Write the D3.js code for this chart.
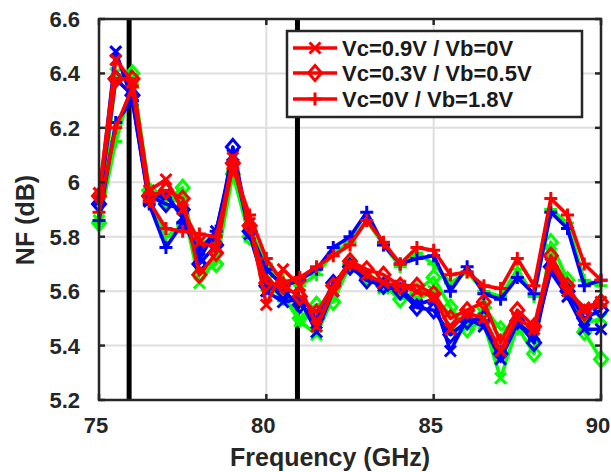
<!DOCTYPE html>
<html>
<head>
<meta charset="utf-8">
<script src="https://cdn.jsdelivr.net/npm/d3@7"></script>
<style>
  html, body { margin: 0; padding: 0; background: #fff; }
  svg { display: block; font-family: Arial, "Liberation Sans", sans-serif; }
</style>
</head>
<body>
<div id="chart"></div>
<script>
// Frequency points (GHz)
const freqs = [75, 75.5, 76, 76.5, 77, 77.5, 78, 78.5, 79, 79.5, 80, 80.5, 81, 81.5, 82, 82.5,
               83, 83.5, 84, 84.5, 85, 85.5, 86, 86.5, 87, 87.5, 88, 88.5, 89, 89.5, 90];

// NF (dB)
const greenX    = [5.86, 6.40, 6.38, 5.96, 5.95, 5.92, 5.63, 5.72, 6.05, 5.80, 5.62, 5.58, 5.49, 5.44, 5.58, 5.69,
                   5.66, 5.61, 5.59, 5.57, 5.60, 5.45, 5.47, 5.48, 5.28, 5.47, 5.43, 5.74, 5.60, 5.48, 5.50];
const greenDiam = [5.85, 6.38, 6.40, 5.97, 5.93, 5.98, 5.66, 5.70, 6.03, 5.80, 5.66, 5.58, 5.50, 5.55, 5.56, 5.70,
                   5.65, 5.62, 5.57, 5.60, 5.65, 5.54, 5.46, 5.54, 5.46, 5.47, 5.37, 5.78, 5.64, 5.45, 5.35];
const greenPlus = [5.85, 6.15, 6.36, 5.94, 5.80, 5.84, 5.78, 5.78, 6.04, 5.83, 5.70, 5.64, 5.62, 5.66, 5.74, 5.78,
                   5.86, 5.77, 5.69, 5.74, 5.70, 5.63, 5.67, 5.60, 5.58, 5.68, 5.58, 5.90, 5.85, 5.64, 5.62];
const blueX     = [5.93, 6.48, 6.30, 5.93, 5.96, 5.87, 5.72, 5.82, 6.10, 5.81, 5.60, 5.56, 5.57, 5.45, 5.60, 5.70,
                   5.66, 5.62, 5.61, 5.55, 5.57, 5.38, 5.50, 5.47, 5.35, 5.48, 5.44, 5.67, 5.58, 5.46, 5.46];
const blueDiam  = [5.92, 6.38, 6.32, 5.95, 5.92, 5.90, 5.70, 5.77, 6.13, 5.82, 5.62, 5.60, 5.55, 5.50, 5.63, 5.69,
                   5.64, 5.62, 5.60, 5.54, 5.53, 5.44, 5.49, 5.50, 5.37, 5.49, 5.41, 5.69, 5.60, 5.50, 5.53];
const bluePlus  = [5.86, 6.22, 6.30, 5.92, 5.76, 5.85, 5.75, 5.82, 6.08, 5.82, 5.68, 5.62, 5.64, 5.68, 5.76, 5.80,
                   5.89, 5.77, 5.70, 5.72, 5.73, 5.60, 5.69, 5.59, 5.57, 5.65, 5.59, 5.89, 5.83, 5.62, 5.64];
const redX      = [5.96, 6.45, 6.37, 5.97, 6.01, 5.90, 5.78, 5.76, 6.09, 5.85, 5.55, 5.68, 5.62, 5.47, 5.60, 5.70,
                   5.66, 5.63, 5.62, 5.60, 5.58, 5.46, 5.52, 5.50, 5.38, 5.50, 5.46, 5.70, 5.60, 5.54, 5.56];
const redDiam   = [5.95, 6.38, 6.38, 5.95, 5.97, 5.94, 5.66, 5.74, 6.07, 5.84, 5.63, 5.62, 5.58, 5.52, 5.62, 5.71,
                   5.68, 5.66, 5.62, 5.62, 5.59, 5.50, 5.53, 5.56, 5.41, 5.53, 5.47, 5.73, 5.62, 5.52, 5.56];
const redPlus   = [5.89, 6.20, 6.35, 5.93, 5.83, 5.82, 5.81, 5.80, 6.05, 5.88, 5.72, 5.63, 5.65, 5.69, 5.73, 5.77,
                   5.86, 5.78, 5.70, 5.76, 5.75, 5.66, 5.67, 5.62, 5.61, 5.72, 5.62, 5.94, 5.88, 5.70, 5.64];

const xTicks = [75, 80, 85, 90];
const yTicks = [5.2, 5.4, 5.6, 5.8, 6, 6.2, 6.4, 6.6];
const markerLines = [75.9, 80.93];   // black vertical band markers
const legendLabels = ['Vc=0.9V / Vb=0V', 'Vc=0.3V / Vb=0.5V', 'Vc=0V / Vb=1.8V'];

const series = [
    { color: '#00ff00', marker: 'x', values: greenX },
    { color: '#00ff00', marker: 'diamond', values: greenDiam },
    { color: '#00ff00', marker: 'plus', values: greenPlus },
    { color: '#0000ff', marker: 'x', values: blueX },
    { color: '#0000ff', marker: 'diamond', values: blueDiam },
    { color: '#0000ff', marker: 'plus', values: bluePlus },
    { color: '#ff0000', marker: 'x', values: redX },
    { color: '#ff0000', marker: 'diamond', values: redDiam },
    { color: '#ff0000', marker: 'plus', values: redPlus },
];

const W = 611, H = 472;
const plot = { left: 99, right: 601, top: 19, bottom: 400 };
const ink = '#262626';

const svg = d3.select('#chart').append('svg')
    .attr('width', W).attr('height', H);

const x = d3.scaleLinear().domain([75, 90]).range([plot.left, plot.right]);
const y = d3.scaleLinear().domain([5.2, 6.6]).range([plot.bottom, plot.top]);

// Grid
const grid = svg.append('g');
grid.selectAll('line.gx').data(xTicks.slice(1, -1)).enter().append('line')
    .attr('x1', d => x(d)).attr('x2', d => x(d))
    .attr('y1', plot.top).attr('y2', plot.bottom)
    .attr('stroke', '#dedede').attr('stroke-width', 2);
grid.selectAll('line.gy').data(yTicks.slice(1, -1)).enter().append('line')
    .attr('y1', d => y(d)).attr('y2', d => y(d))
    .attr('x1', plot.left).attr('x2', plot.right)
    .attr('stroke', '#dedede').attr('stroke-width', 2);

// Black vertical markers
svg.selectAll('line.band').data(markerLines).enter().append('line')
    .attr('x1', d => x(d)).attr('x2', d => x(d))
    .attr('y1', plot.top).attr('y2', plot.bottom)
    .attr('stroke', '#000').attr('stroke-width', 5);

// Marker shapes
function markerPath(kind, s) {
    if (kind === 'x') return `M${-s},${-s}L${s},${s}M${-s},${s}L${s},${-s}`;
    if (kind === 'plus') return `M${-s - 1},0H${s + 1}M0,${-s - 1}V${s + 1}`;
    return `M0,${-s - 2}L${s + 1},0L0,${s + 2}L${-s - 1},0Z`;
}

const line = d3.line()
    .x((d, i) => x(freqs[i]))
    .y(d => y(d));

const lines = svg.append('g');
series.forEach(s => {
    const g = lines.append('g');
    g.append('path')
        .datum(s.values)
        .attr('d', line)
        .attr('fill', 'none')
        .attr('stroke', s.color)
        .attr('stroke-width', 3.6)
        .attr('stroke-linejoin', 'round');
    g.selectAll('path.m').data(s.values).enter().append('path')
        .attr('transform', (d, i) => `translate(${x(freqs[i])},${y(d)})`)
        .attr('d', markerPath(s.marker, 5.5))
        .attr('fill', 'none')
        .attr('stroke', s.color)
        .attr('stroke-width', 3);
});

// Axes box with inward ticks
const axes = svg.append('g');
axes.append('rect')
    .attr('x', plot.left).attr('y', plot.top)
    .attr('width', plot.right - plot.left).attr('height', plot.bottom - plot.top)
    .attr('fill', 'none').attr('stroke', ink).attr('stroke-width', 2.5);

const tickLen = 6;
xTicks.forEach(t => {
    axes.append('line').attr('x1', x(t)).attr('x2', x(t))
        .attr('y1', plot.bottom).attr('y2', plot.bottom - tickLen)
        .attr('stroke', ink).attr('stroke-width', 2.5);
    axes.append('line').attr('x1', x(t)).attr('x2', x(t))
        .attr('y1', plot.top).attr('y2', plot.top + tickLen)
        .attr('stroke', ink).attr('stroke-width', 2.5);
});
yTicks.forEach(t => {
    axes.append('line').attr('y1', y(t)).attr('y2', y(t))
        .attr('x1', plot.left).attr('x2', plot.left + tickLen)
        .attr('stroke', ink).attr('stroke-width', 2.5);
    axes.append('line').attr('y1', y(t)).attr('y2', y(t))
        .attr('x1', plot.right).attr('x2', plot.right - tickLen)
        .attr('stroke', ink).attr('stroke-width', 2.5);
});

// Tick labels
axes.selectAll('text.xt').data(xTicks).enter().append('text')
    .attr('x', d => x(d) - 3).attr('y', 433)
    .attr('text-anchor', 'middle')
    .style('font-size', '22px').style('font-weight', 'bold')
    .attr('fill', ink)
    .text(d => d);
axes.selectAll('text.yt').data(yTicks).enter().append('text')
    .attr('x', 80).attr('y', d => y(d) + 8)
    .attr('text-anchor', 'end')
    .style('font-size', '22px').style('font-weight', 'bold')
    .attr('fill', ink)
    .text(d => d);

// Axis titles
svg.append('text')
    .attr('x', 330).attr('y', 466)
    .attr('text-anchor', 'middle')
    .style('font-size', '25px').style('font-weight', 'bold')
    .attr('fill', ink)
    .text('Frequency (GHz)');
svg.append('text')
    .attr('transform', 'translate(34,220) rotate(-90)')
    .attr('text-anchor', 'middle')
    .style('font-size', '25px').style('font-weight', 'bold')
    .attr('fill', ink)
    .text('NF (dB)');

// Legend (red series only)
const legend = svg.append('g');
legend.append('rect')
    .attr('x', 287).attr('y', 31).attr('width', 295).attr('height', 86)
    .attr('fill', '#fff').attr('stroke', ink).attr('stroke-width', 2.5);
const legendRows = [48, 73, 99];
series.slice(6).forEach((s, i) => {
    const ly = legendRows[i];
    legend.append('line')
        .attr('x1', 293).attr('x2', 337).attr('y1', ly).attr('y2', ly)
        .attr('stroke', s.color).attr('stroke-width', 3.6);
    legend.append('path')
        .attr('transform', `translate(315,${ly})`)
        .attr('d', markerPath(s.marker, 5.5))
        .attr('fill', 'none').attr('stroke', s.color).attr('stroke-width', 3);
    legend.append('text')
        .attr('x', 342).attr('y', ly + 8)
        .style('font-size', '22px').style('font-weight', 'bold')
        .attr('fill', '#1a1a1a')
        .text(legendLabels[i]);
});
</script>
</body>
</html>
